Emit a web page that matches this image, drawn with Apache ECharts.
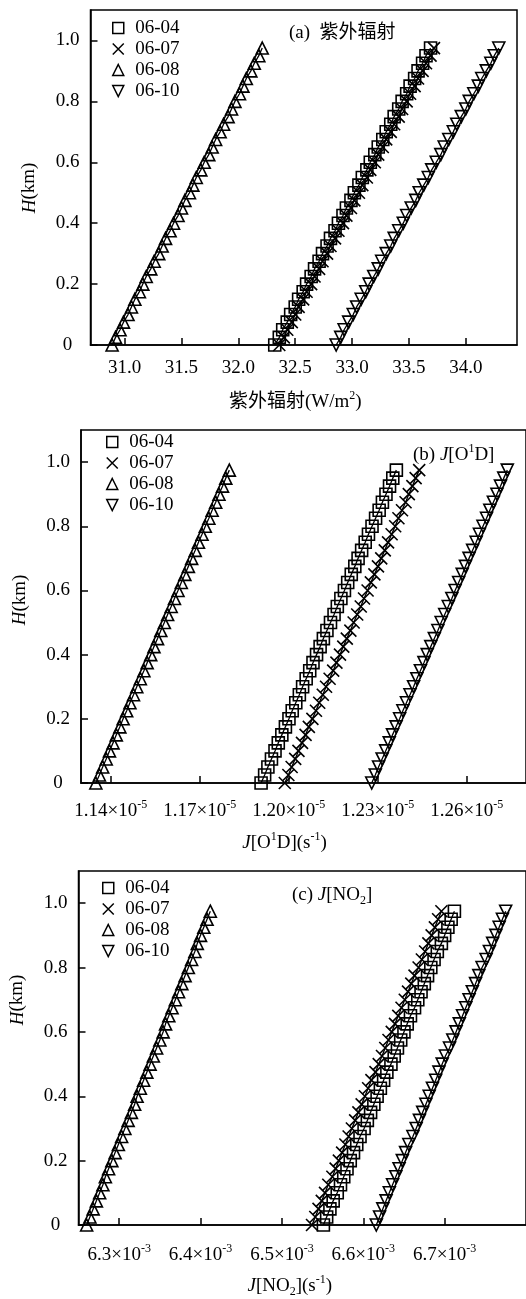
<!DOCTYPE html>
<html>
<head>
<meta charset="utf-8">
<script src="https://cdn.jsdelivr.net/npm/echarts@6/dist/echarts.min.js"></script>
<style>
html, body { margin: 0; padding: 0; background: #fff; }
#chart { width: 526px; height: 1299px; }
</style>
</head>
<body>
<div id="chart"></div>
<script>
// 高度 H(km)
var heights = [0, 0.025, 0.05, 0.075, 0.1, 0.125, 0.15, 0.175, 0.2, 0.225,
    0.25, 0.275, 0.3, 0.325, 0.35, 0.375, 0.4, 0.425, 0.45, 0.475,
    0.5, 0.525, 0.55, 0.575, 0.6, 0.625, 0.65, 0.675, 0.7, 0.725,
    0.75, 0.775, 0.8, 0.825, 0.85, 0.875, 0.9, 0.925, 0.95, 0.975];
var days = ['06-04', '06-07', '06-08', '06-10'];

// (a) 紫外辐射 W/m2
var uv0604 = [32.32, 32.36, 32.39, 32.43, 32.46, 32.50, 32.53, 32.57, 32.60, 32.64, 32.67, 32.71, 32.74, 32.78, 32.81, 32.85, 32.88, 32.92, 32.95, 32.99,
    33.02, 33.06, 33.09, 33.13, 33.16, 33.20, 33.23, 33.27, 33.30, 33.34, 33.37, 33.41, 33.44, 33.48, 33.51, 33.55, 33.58, 33.62, 33.65, 33.69];
var uv0607 = [32.36, 32.40, 32.43, 32.47, 32.50, 32.53, 32.57, 32.60, 32.64, 32.67, 32.71, 32.74, 32.78, 32.81, 32.85, 32.88, 32.92, 32.95, 32.99, 33.02,
    33.06, 33.09, 33.13, 33.16, 33.20, 33.23, 33.27, 33.30, 33.34, 33.37, 33.41, 33.44, 33.48, 33.51, 33.55, 33.58, 33.62, 33.65, 33.69, 33.72];
var uv0608 = [30.89, 30.92, 30.96, 30.99, 31.03, 31.06, 31.09, 31.13, 31.16, 31.19, 31.23, 31.26, 31.30, 31.33, 31.36, 31.40, 31.43, 31.47, 31.50, 31.53,
    31.57, 31.60, 31.63, 31.67, 31.70, 31.74, 31.77, 31.80, 31.84, 31.87, 31.91, 31.94, 31.97, 32.01, 32.04, 32.07, 32.11, 32.14, 32.18, 32.21];
var uv0610 = [32.86, 32.90, 32.93, 32.97, 33.01, 33.04, 33.08, 33.12, 33.15, 33.19, 33.23, 33.26, 33.30, 33.34, 33.37, 33.41, 33.45, 33.48, 33.52, 33.56,
    33.59, 33.63, 33.67, 33.70, 33.74, 33.78, 33.81, 33.85, 33.89, 33.92, 33.96, 34.00, 34.03, 34.07, 34.11, 34.14, 34.18, 34.22, 34.25, 34.29];

// (b) J[O1D] 单位 10^-5 s-1
var jo1d0604 = [1.1907, 1.1919, 1.1930, 1.1942, 1.1954, 1.1965, 1.1977, 1.1989, 1.2001, 1.2012, 1.2024, 1.2036, 1.2047, 1.2059, 1.2071, 1.2082, 1.2094, 1.2106, 1.2117, 1.2129,
    1.2141, 1.2153, 1.2164, 1.2176, 1.2188, 1.2199, 1.2211, 1.2223, 1.2234, 1.2246, 1.2258, 1.2269, 1.2281, 1.2293, 1.2305, 1.2316, 1.2328, 1.2340, 1.2351, 1.2363];
var jo1d0607 = [1.1987, 1.1999, 1.2010, 1.2022, 1.2033, 1.2045, 1.2057, 1.2068, 1.2080, 1.2092, 1.2103, 1.2115, 1.2126, 1.2138, 1.2150, 1.2161, 1.2173, 1.2184, 1.2196, 1.2208,
    1.2219, 1.2231, 1.2243, 1.2254, 1.2266, 1.2277, 1.2289, 1.2301, 1.2312, 1.2324, 1.2335, 1.2347, 1.2359, 1.2370, 1.2382, 1.2394, 1.2405, 1.2417, 1.2428, 1.2440];
var jo1d0608 = [1.1350, 1.1362, 1.1373, 1.1385, 1.1396, 1.1408, 1.1419, 1.1431, 1.1442, 1.1454, 1.1465, 1.1477, 1.1488, 1.1500, 1.1512, 1.1523, 1.1535, 1.1546, 1.1558, 1.1569,
    1.1581, 1.1592, 1.1604, 1.1615, 1.1627, 1.1638, 1.1650, 1.1662, 1.1673, 1.1685, 1.1696, 1.1708, 1.1719, 1.1731, 1.1742, 1.1754, 1.1765, 1.1777, 1.1788, 1.1800];
var jo1d0610 = [1.2280, 1.2292, 1.2303, 1.2315, 1.2327, 1.2339, 1.2350, 1.2362, 1.2374, 1.2385, 1.2397, 1.2409, 1.2421, 1.2432, 1.2444, 1.2456, 1.2467, 1.2479, 1.2491, 1.2503,
    1.2514, 1.2526, 1.2538, 1.2550, 1.2561, 1.2573, 1.2585, 1.2596, 1.2608, 1.2620, 1.2632, 1.2643, 1.2655, 1.2667, 1.2678, 1.2690, 1.2702, 1.2714, 1.2725, 1.2737];

// (c) J[NO2] 单位 10^-3 s-1
var jno20604 = [6.551, 6.555, 6.559, 6.563, 6.568, 6.572, 6.576, 6.580, 6.584, 6.588, 6.592, 6.596, 6.601, 6.605, 6.609, 6.613, 6.617, 6.621, 6.625, 6.629,
    6.634, 6.638, 6.642, 6.646, 6.650, 6.654, 6.658, 6.663, 6.667, 6.671, 6.675, 6.679, 6.683, 6.687, 6.691, 6.696, 6.700, 6.704, 6.708, 6.712];
var jno20607 = [6.537, 6.541, 6.545, 6.549, 6.553, 6.557, 6.562, 6.566, 6.570, 6.574, 6.578, 6.582, 6.586, 6.590, 6.594, 6.598, 6.602, 6.606, 6.610, 6.615,
    6.619, 6.623, 6.627, 6.631, 6.635, 6.639, 6.643, 6.647, 6.651, 6.655, 6.659, 6.663, 6.668, 6.672, 6.676, 6.680, 6.684, 6.688, 6.692, 6.696];
var jno20608 = [6.260, 6.264, 6.268, 6.272, 6.276, 6.280, 6.283, 6.287, 6.291, 6.295, 6.299, 6.303, 6.307, 6.311, 6.315, 6.319, 6.322, 6.326, 6.330, 6.334,
    6.338, 6.342, 6.346, 6.350, 6.354, 6.357, 6.361, 6.365, 6.369, 6.373, 6.377, 6.381, 6.385, 6.389, 6.393, 6.396, 6.400, 6.404, 6.408, 6.412];
var jno20610 = [6.616, 6.620, 6.624, 6.628, 6.632, 6.636, 6.640, 6.644, 6.648, 6.652, 6.656, 6.661, 6.665, 6.669, 6.673, 6.677, 6.681, 6.685, 6.689, 6.693,
    6.697, 6.701, 6.706, 6.710, 6.714, 6.718, 6.722, 6.726, 6.730, 6.734, 6.738, 6.742, 6.746, 6.751, 6.755, 6.759, 6.763, 6.767, 6.771, 6.775];

// 刻度
var uvTicks = [31.0, 31.5, 32.0, 32.5, 33.0, 33.5, 34.0];
var jo1dTicks = [1.14, 1.17, 1.20, 1.23, 1.26];
var jno2Ticks = [6.3, 6.4, 6.5, 6.6, 6.7];
var hTicks = [0, 0.2, 0.4, 0.6, 0.8, 1.0];

var myChart = echarts.init(document.getElementById('chart'));

var FONT = '"Liberation Serif", "Noto Sans CJK SC", serif';
// 方形, 叉, 上三角, 下三角
var symbols = [
    'path://M0,0L10,0L10,10L0,10Z',
    'path://M0,0L10,10M10,0L0,10',
    'path://M5,0L10,10L0,10Z',
    'path://M0,0L10,0L5,10Z'
];

// 上下标
var rich = {
    m: { fontFamily: FONT, fontSize: 19, lineHeight: 24, color: '#000', fontWeight: 'normal' },
    i: { fontFamily: FONT, fontSize: 19, lineHeight: 24, color: '#000', fontWeight: 'normal', fontStyle: 'italic' },
    c: { fontFamily: FONT, fontSize: 19, lineHeight: 24, color: '#000', fontWeight: 'normal' },
    s: { fontFamily: FONT, fontSize: 12, lineHeight: 11, color: '#000', fontWeight: 'normal', verticalAlign: 'top' },
    sub: { fontFamily: FONT, fontSize: 12, lineHeight: 12, color: '#000', fontWeight: 'normal', verticalAlign: 'bottom' }
};

function zip(vals) {
    return vals.map(function (v, i) { return [v, heights[i]]; });
}

var panels = [
    { sets: [uv0604, uv0607, uv0608, uv0610] },
    { sets: [jo1d0604, jo1d0607, jo1d0608, jo1d0610] },
    { sets: [jno20604, jno20607, jno20608, jno20610] }
];

var series = [];
panels.forEach(function (p, k) {
    p.sets.forEach(function (vals, j) {
        series.push({
            name: days[j],
            type: 'line',
            xAxisIndex: k,
            yAxisIndex: k,
            data: zip(vals),
            symbol: symbols[j],
            symbolSize: 12,
            showAllSymbol: true,
            itemStyle: { color: 'rgba(0,0,0,0)', borderColor: '#000', borderWidth: 1.6 },
            lineStyle: { color: '#000', width: 1.3 },
            emphasis: { disabled: true }
        });
    });
});

function legendAt(left, top) {
    return {
        orient: 'vertical',
        left: left,
        top: top,
        padding: 0,
        itemGap: 0,
        itemWidth: 24,
        itemHeight: 11,
        symbolKeepAspect: true,
        selectedMode: false,
        textStyle: { fontFamily: FONT, fontSize: 19, lineHeight: 21, color: '#000' },
        data: days.map(function (d, j) {
            return { name: d, icon: symbols[j], itemStyle: { color: 'rgba(0,0,0,0)', borderColor: '#000', borderWidth: 1.5 } };
        })
    };
}

function xAxisOf(k, min, max, ticks, fmt, name, gap, padRight, margin) {
    return {
        type: 'value', gridIndex: k, min: min, max: max,
        axisLine: { lineStyle: { color: '#000', width: 1.5 } },
        axisTick: { inside: true, length: 7, customValues: ticks, lineStyle: { color: '#000', width: 1.5 } },
        axisLabel: { customValues: ticks, formatter: fmt, margin: margin, rich: rich, fontFamily: FONT, fontSize: 19, color: '#000' },
        splitLine: { show: false },
        name: name, nameLocation: 'middle', nameGap: gap,
        nameTextStyle: { rich: rich, padding: [0, padRight, 0, 0] }
    };
}

function yAxisOf(k, padL, padR) {
    return {
        type: 'value', gridIndex: k, min: 0, max: 1.1,
        axisLine: { lineStyle: { color: '#000', width: 1.5 } },
        axisTick: { inside: true, length: 7, customValues: hTicks, lineStyle: { color: '#000', width: 1.5 } },
        axisLabel: {
            customValues: hTicks, align: 'center', margin: 23,
            fontFamily: FONT, fontSize: 19, color: '#000',
            formatter: function (v) { return v === 0 ? '0' : v.toFixed(1); }
        },
        splitLine: { show: false },
        name: '{i|H}{m|(km)}', nameLocation: 'middle', nameGap: 49, nameRotate: 90,
        nameTextStyle: { rich: rich, padding: [0, padR, 0, padL] }
    };
}

var gridStyle = { show: true, borderColor: '#000', borderWidth: 1.5, backgroundColor: 'transparent' };
var titleStyle = { rich: rich, fontWeight: 'normal' };

option = {
    animation: false,
    backgroundColor: '#fff',
    title: [
        { text: '{m|(a)  }{c|紫外辐射}', left: 289, top: 21, padding: 0, textStyle: titleStyle },
        { text: '{m|(b) }{i|J}{m|[O}{s|1}{m|D]}', left: 413, top: 443, padding: 0, textStyle: titleStyle },
        { text: '{m|(c) }{i|J}{m|[NO}{sub|2}{m|]}', left: 292, top: 883, padding: 0, textStyle: titleStyle }
    ],
    legend: [legendAt(112, 17.5), legendAt(106, 431.5), legendAt(102, 877.5)],
    grid: [
        Object.assign({ left: 90.5, right: 9, top: 10, height: 335 }, gridStyle),
        Object.assign({ left: 81, right: -5, top: 430, height: 353 }, gridStyle),
        Object.assign({ left: 78, right: -15, top: 871, height: 356 }, gridStyle)
    ],
    xAxis: [
        xAxisOf(0, 30.7, 34.45, uvTicks, function (v) { return v.toFixed(1); },
            '{c|紫外辐射}{m|(W/m}{s|2}{m|)}', 45, 17, 14),
        xAxisOf(1, 1.13, 1.28, jo1dTicks, function (v) { return '{m|' + v.toFixed(2) + '×10}{s|-5}'; },
            '{i|J}{m|[O}{s|1}{m|D](s}{s|-1}{m|)}', 48, 38, 16),
        xAxisOf(2, 6.25, 6.8, jno2Ticks, function (v) { return '{m|' + v.toFixed(1) + '×10}{s|-3}'; },
            '{i|J}{m|[NO}{sub|2}{m|](s}{s|-1}{m|)}', 49, 25, 18)
    ],
    yAxis: [yAxisOf(0, 0, 21), yAxisOf(1, 13, 0), yAxisOf(2, 96, 0)],
    series: series
};

myChart.setOption(option);
</script>
</body>
</html>
